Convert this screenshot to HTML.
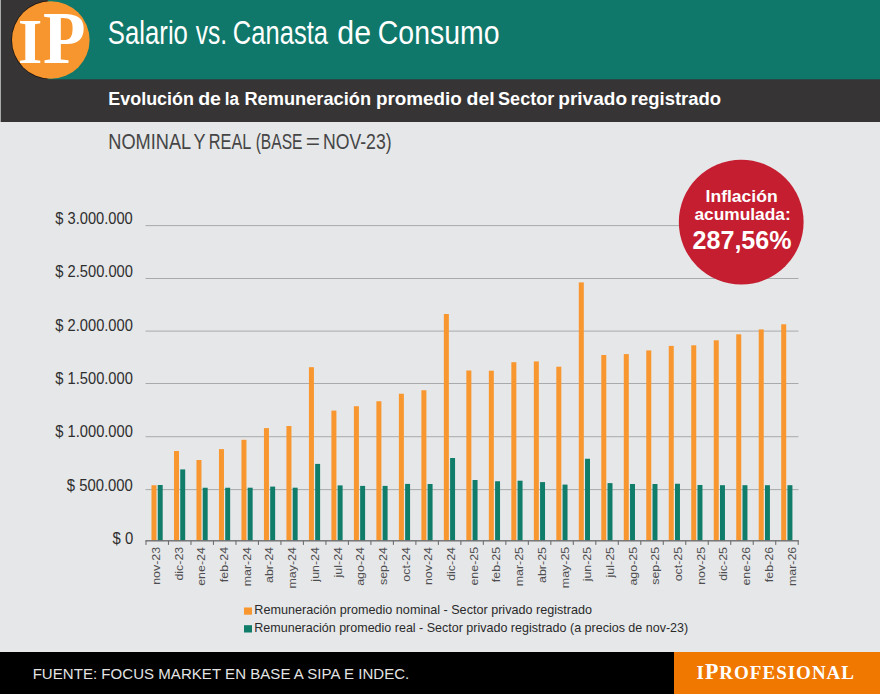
<!DOCTYPE html>
<html><head><meta charset="utf-8"><title>Salario vs. Canasta de Consumo</title><style>
html,body{margin:0;padding:0;width:880px;height:694px;overflow:hidden;background:#E6E7E8}
svg{display:block}
</style></head><body>
<svg width="880" height="694" viewBox="0 0 880 694">
<rect x="0" y="0" width="880" height="694" fill="#E6E7E8"/>
<rect x="1" y="0" width="879" height="122" fill="#363435"/>
<rect x="0" y="0" width="1" height="122" fill="#A9A9AA"/>
<rect x="48" y="0" width="832" height="79.3" fill="#0F786A"/>
<clipPath id="lc"><rect x="0" y="0" width="47" height="80"/></clipPath>
<circle cx="50.6" cy="40" r="39.4" fill="#1E1612" clip-path="url(#lc)"/>
<circle cx="50.8" cy="40" r="38.8" fill="#F7962E"/>
<rect x="145.5" y="489.10" width="653" height="1" fill="#A9AAAC"/>
<rect x="145.5" y="436.20" width="653" height="1" fill="#A9AAAC"/>
<rect x="145.5" y="383.00" width="653" height="1" fill="#A9AAAC"/>
<rect x="145.5" y="330.60" width="653" height="1" fill="#A9AAAC"/>
<rect x="145.5" y="278.00" width="653" height="1" fill="#A9AAAC"/>
<rect x="145.5" y="225.10" width="653" height="1" fill="#A9AAAC"/>
<rect x="151.50" y="485.25" width="5" height="55.45" fill="#F8972F"/>
<rect x="157.75" y="485.00" width="4.95" height="55.70" fill="#107C6A"/>
<rect x="173.99" y="451.00" width="5" height="89.70" fill="#F8972F"/>
<rect x="180.24" y="469.40" width="4.95" height="71.30" fill="#107C6A"/>
<rect x="196.47" y="460.00" width="5" height="80.70" fill="#F8972F"/>
<rect x="202.72" y="487.75" width="4.95" height="52.95" fill="#107C6A"/>
<rect x="218.96" y="449.10" width="5" height="91.60" fill="#F8972F"/>
<rect x="225.21" y="487.75" width="4.95" height="52.95" fill="#107C6A"/>
<rect x="241.45" y="439.80" width="5" height="100.90" fill="#F8972F"/>
<rect x="247.70" y="487.70" width="4.95" height="53.00" fill="#107C6A"/>
<rect x="263.94" y="428.10" width="5" height="112.60" fill="#F8972F"/>
<rect x="270.19" y="486.60" width="4.95" height="54.10" fill="#107C6A"/>
<rect x="286.44" y="426.00" width="5" height="114.70" fill="#F8972F"/>
<rect x="292.69" y="487.70" width="4.95" height="53.00" fill="#107C6A"/>
<rect x="308.92" y="367.20" width="5" height="173.50" fill="#F8972F"/>
<rect x="315.17" y="463.90" width="4.95" height="76.80" fill="#107C6A"/>
<rect x="331.41" y="410.60" width="5" height="130.10" fill="#F8972F"/>
<rect x="337.66" y="485.40" width="4.95" height="55.30" fill="#107C6A"/>
<rect x="353.90" y="406.25" width="5" height="134.45" fill="#F8972F"/>
<rect x="360.15" y="485.90" width="4.95" height="54.80" fill="#107C6A"/>
<rect x="376.39" y="401.25" width="5" height="139.45" fill="#F8972F"/>
<rect x="382.64" y="485.90" width="4.95" height="54.80" fill="#107C6A"/>
<rect x="398.88" y="393.75" width="5" height="146.95" fill="#F8972F"/>
<rect x="405.13" y="483.90" width="4.95" height="56.80" fill="#107C6A"/>
<rect x="421.38" y="390.25" width="5" height="150.45" fill="#F8972F"/>
<rect x="427.62" y="484.00" width="4.95" height="56.70" fill="#107C6A"/>
<rect x="443.86" y="314.00" width="5" height="226.70" fill="#F8972F"/>
<rect x="450.11" y="458.00" width="4.95" height="82.70" fill="#107C6A"/>
<rect x="466.35" y="370.50" width="5" height="170.20" fill="#F8972F"/>
<rect x="472.60" y="480.00" width="4.95" height="60.70" fill="#107C6A"/>
<rect x="488.84" y="370.70" width="5" height="170.00" fill="#F8972F"/>
<rect x="495.09" y="481.25" width="4.95" height="59.45" fill="#107C6A"/>
<rect x="511.34" y="362.20" width="5" height="178.50" fill="#F8972F"/>
<rect x="517.59" y="480.70" width="4.95" height="60.00" fill="#107C6A"/>
<rect x="533.83" y="361.40" width="5" height="179.30" fill="#F8972F"/>
<rect x="540.08" y="482.10" width="4.95" height="58.60" fill="#107C6A"/>
<rect x="556.32" y="366.70" width="5" height="174.00" fill="#F8972F"/>
<rect x="562.57" y="484.60" width="4.95" height="56.10" fill="#107C6A"/>
<rect x="578.80" y="282.40" width="5" height="258.30" fill="#F8972F"/>
<rect x="585.05" y="458.75" width="4.95" height="81.95" fill="#107C6A"/>
<rect x="601.29" y="355.00" width="5" height="185.70" fill="#F8972F"/>
<rect x="607.54" y="483.10" width="4.95" height="57.60" fill="#107C6A"/>
<rect x="623.78" y="354.10" width="5" height="186.60" fill="#F8972F"/>
<rect x="630.03" y="484.00" width="4.95" height="56.70" fill="#107C6A"/>
<rect x="646.27" y="350.40" width="5" height="190.30" fill="#F8972F"/>
<rect x="652.52" y="484.00" width="4.95" height="56.70" fill="#107C6A"/>
<rect x="668.76" y="345.90" width="5" height="194.80" fill="#F8972F"/>
<rect x="675.01" y="483.75" width="4.95" height="56.95" fill="#107C6A"/>
<rect x="691.25" y="345.30" width="5" height="195.40" fill="#F8972F"/>
<rect x="697.50" y="485.00" width="4.95" height="55.70" fill="#107C6A"/>
<rect x="713.75" y="340.30" width="5" height="200.40" fill="#F8972F"/>
<rect x="720.00" y="485.20" width="4.95" height="55.50" fill="#107C6A"/>
<rect x="736.24" y="334.30" width="5" height="206.40" fill="#F8972F"/>
<rect x="742.49" y="485.20" width="4.95" height="55.50" fill="#107C6A"/>
<rect x="758.72" y="329.40" width="5" height="211.30" fill="#F8972F"/>
<rect x="764.97" y="485.20" width="4.95" height="55.50" fill="#107C6A"/>
<rect x="781.21" y="324.30" width="5" height="216.40" fill="#F8972F"/>
<rect x="787.46" y="485.20" width="4.95" height="55.50" fill="#107C6A"/>
<rect x="145.4" y="540.10" width="653.4" height="1.4" fill="#6E6F71"/>
<rect x="145.45" y="540.70" width="1.1" height="4.2" fill="#6E6F71"/>
<rect x="167.94" y="540.70" width="1.1" height="4.2" fill="#6E6F71"/>
<rect x="190.43" y="540.70" width="1.1" height="4.2" fill="#6E6F71"/>
<rect x="212.92" y="540.70" width="1.1" height="4.2" fill="#6E6F71"/>
<rect x="235.41" y="540.70" width="1.1" height="4.2" fill="#6E6F71"/>
<rect x="257.90" y="540.70" width="1.1" height="4.2" fill="#6E6F71"/>
<rect x="280.39" y="540.70" width="1.1" height="4.2" fill="#6E6F71"/>
<rect x="302.88" y="540.70" width="1.1" height="4.2" fill="#6E6F71"/>
<rect x="325.37" y="540.70" width="1.1" height="4.2" fill="#6E6F71"/>
<rect x="347.86" y="540.70" width="1.1" height="4.2" fill="#6E6F71"/>
<rect x="370.35" y="540.70" width="1.1" height="4.2" fill="#6E6F71"/>
<rect x="392.84" y="540.70" width="1.1" height="4.2" fill="#6E6F71"/>
<rect x="415.33" y="540.70" width="1.1" height="4.2" fill="#6E6F71"/>
<rect x="437.82" y="540.70" width="1.1" height="4.2" fill="#6E6F71"/>
<rect x="460.31" y="540.70" width="1.1" height="4.2" fill="#6E6F71"/>
<rect x="482.80" y="540.70" width="1.1" height="4.2" fill="#6E6F71"/>
<rect x="505.29" y="540.70" width="1.1" height="4.2" fill="#6E6F71"/>
<rect x="527.78" y="540.70" width="1.1" height="4.2" fill="#6E6F71"/>
<rect x="550.27" y="540.70" width="1.1" height="4.2" fill="#6E6F71"/>
<rect x="572.76" y="540.70" width="1.1" height="4.2" fill="#6E6F71"/>
<rect x="595.25" y="540.70" width="1.1" height="4.2" fill="#6E6F71"/>
<rect x="617.74" y="540.70" width="1.1" height="4.2" fill="#6E6F71"/>
<rect x="640.23" y="540.70" width="1.1" height="4.2" fill="#6E6F71"/>
<rect x="662.72" y="540.70" width="1.1" height="4.2" fill="#6E6F71"/>
<rect x="685.21" y="540.70" width="1.1" height="4.2" fill="#6E6F71"/>
<rect x="707.70" y="540.70" width="1.1" height="4.2" fill="#6E6F71"/>
<rect x="730.19" y="540.70" width="1.1" height="4.2" fill="#6E6F71"/>
<rect x="752.68" y="540.70" width="1.1" height="4.2" fill="#6E6F71"/>
<rect x="775.17" y="540.70" width="1.1" height="4.2" fill="#6E6F71"/>
<rect x="797.66" y="540.70" width="1.1" height="4.2" fill="#6E6F71"/>
<circle cx="741.2" cy="222.1" r="62.4" fill="#C41E30"/>
<rect x="244" y="607.5" width="8" height="7.2" fill="#F8972F"/>
<rect x="244" y="625.2" width="8" height="7.3" fill="#107C6A"/>
<rect x="0" y="652" width="880" height="42" fill="#000000"/>
<rect x="674" y="652" width="206" height="42" fill="#F07800"/>
<text transform="translate(107.83,44.3) scale(0.7799,1)" font-family="&quot;Liberation Sans&quot;, sans-serif" font-size="33" fill="#FFFFFF">Salario</text>
<text transform="translate(195.81,44.3) scale(0.7436,1)" font-family="&quot;Liberation Sans&quot;, sans-serif" font-size="33" fill="#FFFFFF">vs.</text>
<text transform="translate(232.85,44.3) scale(0.7736,1)" font-family="&quot;Liberation Sans&quot;, sans-serif" font-size="33" fill="#FFFFFF">Canasta</text>
<text transform="translate(337.32,44.3) scale(0.9185,1)" font-family="&quot;Liberation Sans&quot;, sans-serif" font-size="33" fill="#FFFFFF">de</text>
<text transform="translate(377.79,44.3) scale(0.8616,1)" font-family="&quot;Liberation Sans&quot;, sans-serif" font-size="33" fill="#FFFFFF">Consumo</text>
<text transform="translate(108.30,148.6) scale(0.8584,1)" font-family="&quot;Liberation Sans&quot;, sans-serif" font-size="21.2" fill="#454546">NOMINAL</text>
<text transform="translate(193.47,148.6) scale(0.8538,1)" font-family="&quot;Liberation Sans&quot;, sans-serif" font-size="21.2" fill="#454546">Y</text>
<text transform="translate(208.86,148.6) scale(0.7679,1)" font-family="&quot;Liberation Sans&quot;, sans-serif" font-size="21.2" fill="#454546">REAL</text>
<text transform="translate(255.68,148.6) scale(0.7350,1)" font-family="&quot;Liberation Sans&quot;, sans-serif" font-size="21.2" fill="#454546">(BASE</text>
<text transform="translate(305.65,148.6) scale(1.1512,1)" font-family="&quot;Liberation Sans&quot;, sans-serif" font-size="21.2" fill="#454546">=</text>
<text transform="translate(323.04,148.6) scale(0.8314,1)" font-family="&quot;Liberation Sans&quot;, sans-serif" font-size="21.2" fill="#454546">NOV-23)</text>
<text transform="translate(112.57,543.7) scale(0.9163,1)" font-family="&quot;Liberation Sans&quot;, sans-serif" font-size="16.2" fill="#2E2E2F">$ 0</text>
<text transform="translate(66.77,490.7) scale(0.9179,1)" font-family="&quot;Liberation Sans&quot;, sans-serif" font-size="16.2" fill="#2E2E2F">$ 500.000</text>
<text transform="translate(55.37,437.1) scale(0.9062,1)" font-family="&quot;Liberation Sans&quot;, sans-serif" font-size="16.2" fill="#2E2E2F">$ 1.000.000</text>
<text transform="translate(55.37,383.6) scale(0.9062,1)" font-family="&quot;Liberation Sans&quot;, sans-serif" font-size="16.2" fill="#2E2E2F">$ 1.500.000</text>
<text transform="translate(55.37,330.8) scale(0.9062,1)" font-family="&quot;Liberation Sans&quot;, sans-serif" font-size="16.2" fill="#2E2E2F">$ 2.000.000</text>
<text transform="translate(55.37,276.9) scale(0.9074,1)" font-family="&quot;Liberation Sans&quot;, sans-serif" font-size="16.2" fill="#2E2E2F">$ 2.500.000</text>
<text transform="translate(55.37,223.9) scale(0.9050,1)" font-family="&quot;Liberation Sans&quot;, sans-serif" font-size="16.2" fill="#2E2E2F">$ 3.000.000</text>
<text transform="translate(705.61,201.7) scale(1.0311,1)" font-family="&quot;Liberation Sans&quot;, sans-serif" font-size="17" font-weight="bold" fill="#FFFFFF">Inflación</text>
<text transform="translate(694.49,219.9) scale(1.0190,1)" font-family="&quot;Liberation Sans&quot;, sans-serif" font-size="17" font-weight="bold" fill="#FFFFFF">acumulada:</text>
<text transform="translate(692.61,249.2) scale(0.9944,1)" font-family="&quot;Liberation Sans&quot;, sans-serif" font-size="25.2" font-weight="bold" fill="#FFFFFF">287,56%</text>
<text transform="translate(254.29,614.1) scale(1.0098,1)" font-family="&quot;Liberation Sans&quot;, sans-serif" font-size="12.5" fill="#2A2A2B">Remuneración promedio nominal - Sector privado registrado</text>
<text transform="translate(254.30,632.3) scale(1.0015,1)" font-family="&quot;Liberation Sans&quot;, sans-serif" font-size="12.5" fill="#2A2A2B">Remuneración promedio real - Sector privado registrado (a precios de nov-23)</text>
<text transform="translate(17.89,63.3) scale(0.9805,1)" font-family="&quot;Liberation Serif&quot;, serif" font-size="63.7" font-weight="bold" fill="#FFFFFF">I</text>
<text transform="translate(43.12,63.3) scale(0.9470,1)" font-family="&quot;Liberation Serif&quot;, serif" font-size="73.6" font-weight="bold" fill="#FFFFFF">P</text>
<text transform="translate(108.32,105) scale(0.9428,1)" font-family="&quot;Liberation Sans&quot;, sans-serif" font-size="19" font-weight="bold" fill="#FFFFFF">Evolución</text>
<text transform="translate(198.13,105) scale(1.0313,1)" font-family="&quot;Liberation Sans&quot;, sans-serif" font-size="19" font-weight="bold" fill="#FFFFFF">de</text>
<text transform="translate(224.67,105) scale(0.9017,1)" font-family="&quot;Liberation Sans&quot;, sans-serif" font-size="19" font-weight="bold" fill="#FFFFFF">la</text>
<text transform="translate(244.40,105) scale(0.9606,1)" font-family="&quot;Liberation Sans&quot;, sans-serif" font-size="19" font-weight="bold" fill="#FFFFFF">Remuneración</text>
<text transform="translate(375.96,105) scale(0.9929,1)" font-family="&quot;Liberation Sans&quot;, sans-serif" font-size="19" font-weight="bold" fill="#FFFFFF">promedio</text>
<text transform="translate(466.53,105) scale(1.0257,1)" font-family="&quot;Liberation Sans&quot;, sans-serif" font-size="19" font-weight="bold" fill="#FFFFFF">del</text>
<text transform="translate(498.09,105) scale(0.9500,1)" font-family="&quot;Liberation Sans&quot;, sans-serif" font-size="19" font-weight="bold" fill="#FFFFFF">Sector</text>
<text transform="translate(558.25,105) scale(1.0030,1)" font-family="&quot;Liberation Sans&quot;, sans-serif" font-size="19" font-weight="bold" fill="#FFFFFF">privado</text>
<text transform="translate(630.78,105) scale(0.9725,1)" font-family="&quot;Liberation Sans&quot;, sans-serif" font-size="19" font-weight="bold" fill="#FFFFFF">registrado</text>
<text transform="translate(159.90,584.79) rotate(-90) scale(1.0532,1)" font-family="&quot;Liberation Sans&quot;, sans-serif" font-size="11.8" fill="#4E4E50">nov-23</text>
<text transform="translate(182.60,580.58) rotate(-90) scale(1.0532,1)" font-family="&quot;Liberation Sans&quot;, sans-serif" font-size="11.8" fill="#4E4E50">dic-23</text>
<text transform="translate(205.30,585.84) rotate(-90) scale(1.0532,1)" font-family="&quot;Liberation Sans&quot;, sans-serif" font-size="11.8" fill="#4E4E50">ene-24</text>
<text transform="translate(228.00,582.16) rotate(-90) scale(1.0532,1)" font-family="&quot;Liberation Sans&quot;, sans-serif" font-size="11.8" fill="#4E4E50">feb-24</text>
<text transform="translate(250.70,586.37) rotate(-90) scale(1.0532,1)" font-family="&quot;Liberation Sans&quot;, sans-serif" font-size="11.8" fill="#4E4E50">mar-24</text>
<text transform="translate(273.40,582.95) rotate(-90) scale(1.0532,1)" font-family="&quot;Liberation Sans&quot;, sans-serif" font-size="11.8" fill="#4E4E50">abr-24</text>
<text transform="translate(296.10,588.48) rotate(-90) scale(1.0532,1)" font-family="&quot;Liberation Sans&quot;, sans-serif" font-size="11.8" fill="#4E4E50">may-24</text>
<text transform="translate(318.80,581.63) rotate(-90) scale(1.0532,1)" font-family="&quot;Liberation Sans&quot;, sans-serif" font-size="11.8" fill="#4E4E50">jun-24</text>
<text transform="translate(341.50,577.42) rotate(-90) scale(1.0532,1)" font-family="&quot;Liberation Sans&quot;, sans-serif" font-size="11.8" fill="#4E4E50">jul-24</text>
<text transform="translate(364.20,585.84) rotate(-90) scale(1.0532,1)" font-family="&quot;Liberation Sans&quot;, sans-serif" font-size="11.8" fill="#4E4E50">ago-24</text>
<text transform="translate(386.90,585.05) rotate(-90) scale(1.0532,1)" font-family="&quot;Liberation Sans&quot;, sans-serif" font-size="11.8" fill="#4E4E50">sep-24</text>
<text transform="translate(409.60,581.63) rotate(-90) scale(1.0532,1)" font-family="&quot;Liberation Sans&quot;, sans-serif" font-size="11.8" fill="#4E4E50">oct-24</text>
<text transform="translate(432.30,585.05) rotate(-90) scale(1.0532,1)" font-family="&quot;Liberation Sans&quot;, sans-serif" font-size="11.8" fill="#4E4E50">nov-24</text>
<text transform="translate(455.00,580.84) rotate(-90) scale(1.0532,1)" font-family="&quot;Liberation Sans&quot;, sans-serif" font-size="11.8" fill="#4E4E50">dic-24</text>
<text transform="translate(477.70,585.58) rotate(-90) scale(1.0532,1)" font-family="&quot;Liberation Sans&quot;, sans-serif" font-size="11.8" fill="#4E4E50">ene-25</text>
<text transform="translate(500.40,582.16) rotate(-90) scale(1.0532,1)" font-family="&quot;Liberation Sans&quot;, sans-serif" font-size="11.8" fill="#4E4E50">feb-25</text>
<text transform="translate(523.10,586.37) rotate(-90) scale(1.0532,1)" font-family="&quot;Liberation Sans&quot;, sans-serif" font-size="11.8" fill="#4E4E50">mar-25</text>
<text transform="translate(545.80,582.95) rotate(-90) scale(1.0532,1)" font-family="&quot;Liberation Sans&quot;, sans-serif" font-size="11.8" fill="#4E4E50">abr-25</text>
<text transform="translate(568.50,588.21) rotate(-90) scale(1.0532,1)" font-family="&quot;Liberation Sans&quot;, sans-serif" font-size="11.8" fill="#4E4E50">may-25</text>
<text transform="translate(591.20,581.37) rotate(-90) scale(1.0532,1)" font-family="&quot;Liberation Sans&quot;, sans-serif" font-size="11.8" fill="#4E4E50">jun-25</text>
<text transform="translate(613.90,577.42) rotate(-90) scale(1.0532,1)" font-family="&quot;Liberation Sans&quot;, sans-serif" font-size="11.8" fill="#4E4E50">jul-25</text>
<text transform="translate(636.60,585.58) rotate(-90) scale(1.0532,1)" font-family="&quot;Liberation Sans&quot;, sans-serif" font-size="11.8" fill="#4E4E50">ago-25</text>
<text transform="translate(659.30,584.79) rotate(-90) scale(1.0532,1)" font-family="&quot;Liberation Sans&quot;, sans-serif" font-size="11.8" fill="#4E4E50">sep-25</text>
<text transform="translate(682.00,581.37) rotate(-90) scale(1.0532,1)" font-family="&quot;Liberation Sans&quot;, sans-serif" font-size="11.8" fill="#4E4E50">oct-25</text>
<text transform="translate(704.70,584.79) rotate(-90) scale(1.0532,1)" font-family="&quot;Liberation Sans&quot;, sans-serif" font-size="11.8" fill="#4E4E50">nov-25</text>
<text transform="translate(727.40,580.84) rotate(-90) scale(1.0532,1)" font-family="&quot;Liberation Sans&quot;, sans-serif" font-size="11.8" fill="#4E4E50">dic-25</text>
<text transform="translate(750.10,585.58) rotate(-90) scale(1.0532,1)" font-family="&quot;Liberation Sans&quot;, sans-serif" font-size="11.8" fill="#4E4E50">ene-26</text>
<text transform="translate(772.80,582.16) rotate(-90) scale(1.0532,1)" font-family="&quot;Liberation Sans&quot;, sans-serif" font-size="11.8" fill="#4E4E50">feb-26</text>
<text transform="translate(795.50,586.11) rotate(-90) scale(1.0532,1)" font-family="&quot;Liberation Sans&quot;, sans-serif" font-size="11.8" fill="#4E4E50">mar-26</text>
<text x="32.65" y="678.9" font-family="&quot;Liberation Sans&quot;, sans-serif" font-size="15" letter-spacing="0.049" fill="#E4E4E4">FUENTE: FOCUS MARKET EN BASE A SIPA E INDEC.</text>
<text transform="translate(696.56,678.5) scale(0.9908,1)" font-family="&quot;Liberation Serif&quot;, serif" font-weight="bold" letter-spacing="1" fill="#FFFFFF"><tspan font-size="19.2">I</tspan><tspan font-size="22.1">P</tspan><tspan font-size="19.2">ROFESIONAL</tspan></text>
</svg>
</body></html>
